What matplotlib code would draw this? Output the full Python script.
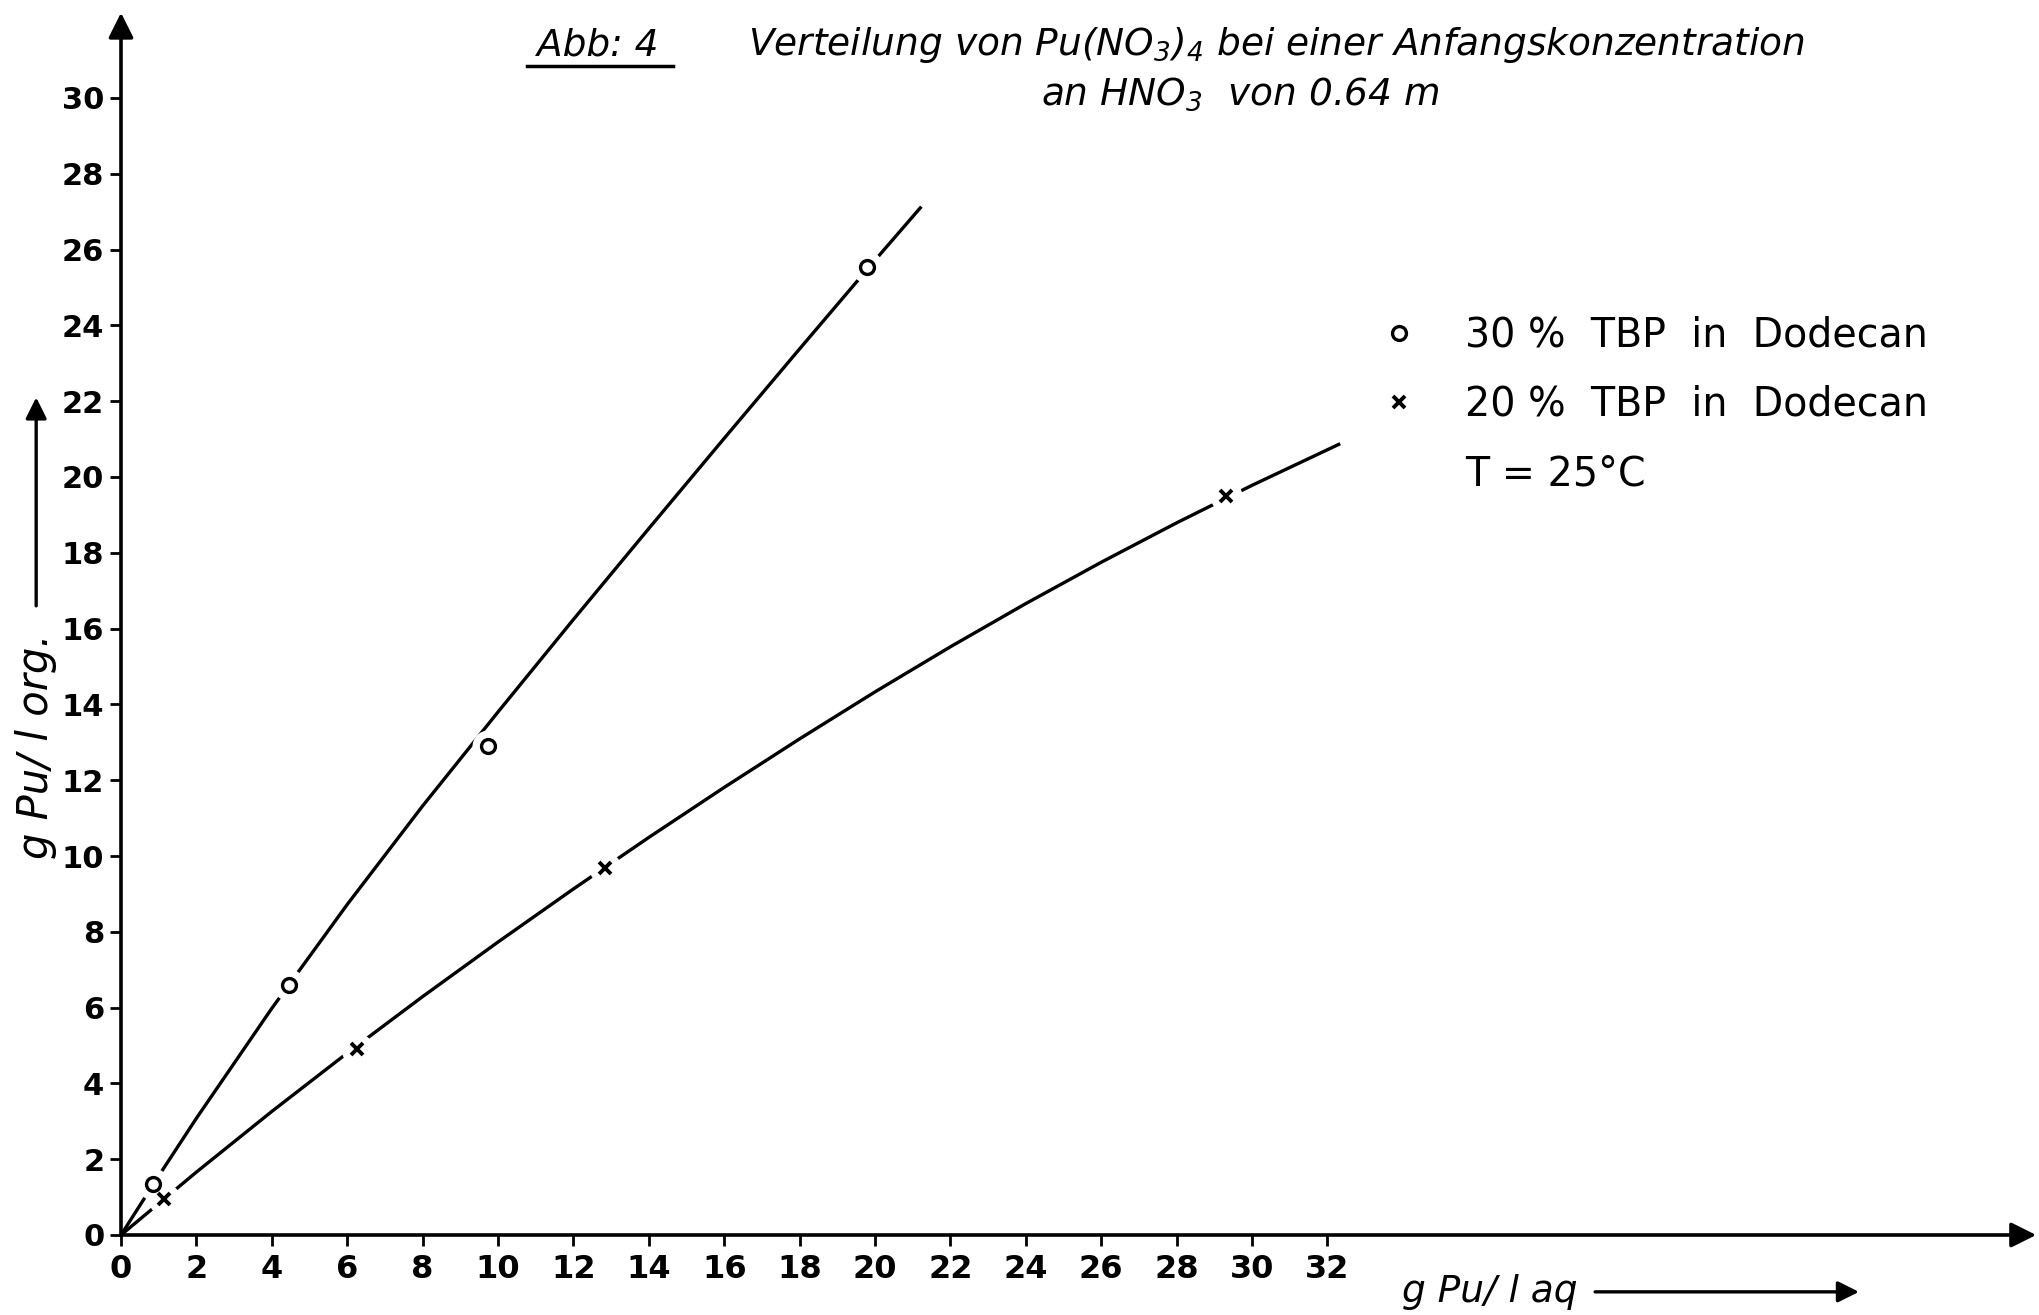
import numpy as np
import matplotlib.pyplot as plt
from matplotlib.lines import Line2D

plt.rcParams['font.family'] = ['DejaVu Sans']
plt.rcParams['mathtext.fontset'] = 'custom'
plt.rcParams['mathtext.it'] = 'DejaVu Sans:italic'
plt.rcParams['mathtext.rm'] = 'DejaVu Sans:italic'

# Messpunkte 30 % TBP (Kreise)
x30 = [0.86, 4.45, 9.73, 19.8]
y30 = [1.34, 6.59, 12.9, 25.54]
# Ausgleichskurve 30 % TBP
cx30 = [0, 1, 2, 4, 6, 8, 10, 12, 14, 16, 18, 20, 21.2]
cy30 = [0, 1.56, 3.08, 5.98, 8.72, 11.32, 13.8, 16.24, 18.64, 21.02, 23.38, 25.72, 27.1]

# Messpunkte 20 % TBP (Kreuze)
x20 = [1.14, 6.25, 12.84, 29.31]
y20 = [0.96, 4.91, 9.68, 19.5]
# Ausgleichskurve 20 % TBP
cx20 = [0, 2, 4, 6, 8, 10, 12, 14, 16, 18, 20, 22, 24, 26, 28, 30, 32.3]
cy20 = [0, 1.66, 3.26, 4.80, 6.29, 7.73, 9.13, 10.49, 11.81, 13.09, 14.33,
        15.52, 16.66, 17.75, 18.79, 19.78, 20.86]

xticks = list(range(0, 33, 2))
yticks = list(range(0, 31, 2))

fig = plt.figure(figsize=(20.4, 13.15), dpi=100)
ax = fig.add_axes([0, 0, 1, 1])

# Ursprung bei Pixel (121, 1235), 37.7 bzw. 37.9 px pro Einheit
ux, uy = 37.7, 37.9
ax.set_xlim(-121 / ux, (2040 - 121) / ux)
ax.set_ylim(-(1315 - 1235) / uy, 1235 / uy)

for s in ax.spines.values():
    s.set_visible(False)
ax.spines['left'].set_position(('data', 0))
ax.spines['bottom'].set_position(('data', 0))

# Achsen mit Pfeilspitzen
arr = dict(arrowstyle='-|>', lw=2.6, color='k', mutation_scale=38, shrinkA=0, shrinkB=0)
ax.annotate('', xy=(50.8, 0), xytext=(0, 0), arrowprops=arr)
ax.annotate('', xy=(0, 32.25), xytext=(0, 0), arrowprops=arr)

ax.set_xticks(xticks)
ax.set_yticks(yticks)
ax.tick_params(axis='both', direction='out', length=8, width=2, color='k')
ax.tick_params(axis='x', pad=6)
ax.tick_params(axis='y', pad=4)
for lab in ax.get_yticklabels():
    lab.set_fontsize(22)
    lab.set_fontweight('bold')
for lab in ax.get_xticklabels():
    lab.set_fontsize(23)
    lab.set_fontweight('semibold')

# Kurven
ax.plot(cx30, cy30, color='k', lw=2.4, zorder=2)
ax.plot(cx20, cy20, color='k', lw=2.4, zorder=2)

# weisse Luecke um die Messpunkte
ax.plot(x30, y30, ls='none', marker='o', ms=22, mfc='white', mec='white', zorder=3)
ax.plot(x20, y20, ls='none', marker='o', ms=22, mfc='white', mec='white', zorder=3)
ax.plot(x30, y30, ls='none', marker='o', ms=10, mfc='white', mec='k', mew=2.4, zorder=4)
ax.plot(x20, y20, ls='none', marker='x', ms=9, mec='k', mew=2.8, zorder=4)

# Legende
handles = [Line2D([], [], ls='none', marker='o', ms=10, mfc='white', mec='k', mew=2.4),
           Line2D([], [], ls='none', marker='x', ms=8, mec='k', mew=2.8),
           Line2D([], [], ls='none')]
labels = ['30 %  TBP  in  Dodecan', '20 %  TBP  in  Dodecan', 'T = 25°C']
ax.legend(handles, labels, loc='upper left', bbox_to_anchor=(0.676, 0.76),
          frameon=False, fontsize=28.5, handlelength=1.0, handletextpad=1.18,
          borderpad=0, borderaxespad=0, labelspacing=0.74)

# Achsenbeschriftungen
ax.text(-2.25, 12.9, 'g Pu/ l org.', rotation=90, style='italic', fontsize=30,
        ha='center', va='center')
ax.annotate('', xy=(-2.25, 22.1), xytext=(-2.25, 16.6),
            arrowprops=dict(arrowstyle='-|>', lw=2.4, color='k', mutation_scale=32,
                            shrinkA=0, shrinkB=0))
ax.text(36.3, -1.5, 'g Pu/ l aq', style='italic', fontsize=27, ha='center', va='center')
ax.annotate('', xy=(46.1, -1.5), xytext=(39.1, -1.5),
            arrowprops=dict(arrowstyle='-|>', lw=2.4, color='k', mutation_scale=32,
                            shrinkA=0, shrinkB=0))

# Titel
ax.text(12.65, 31.39, 'Abb: 4', style='italic', fontsize=27, ha='center', va='center')
fig.add_artist(Line2D([527 / 2040, 673 / 2040], [1 - 66 / 1315, 1 - 66 / 1315],
                      color='k', lw=2.5))
ax.text(16.63, 31.39, r'Verteilung von Pu(NO$_3$)$_4$ bei einer Anfangskonzentration',
        style='italic', fontsize=27, ha='left', va='center')
ax.text(29.7, 30.1, r'an HNO$_3$  von 0.64 m', style='italic', fontsize=27,
        ha='center', va='center')

fig.savefig('out.png', dpi=100)
